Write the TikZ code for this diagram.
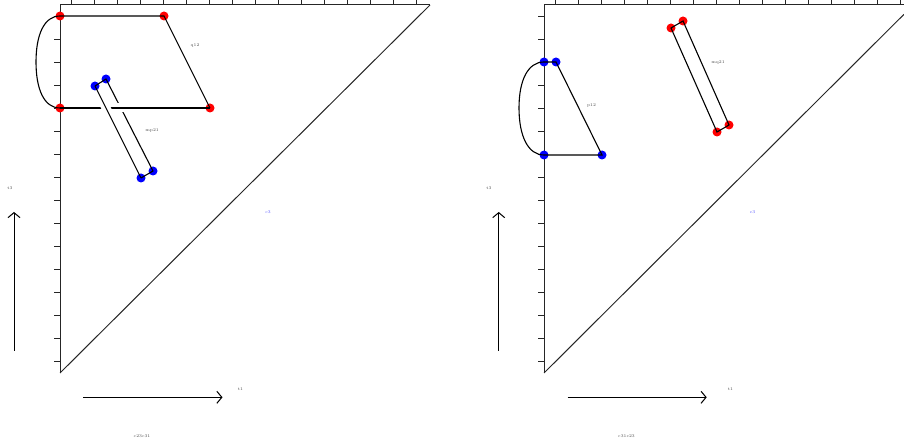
\documentclass[tikz,border=0pt]{standalone}
\usetikzlibrary{arrows.meta}
\begin{document}
\begin{tikzpicture}[x=1pt,y=-1pt,
  axisline/.style={draw=black!85,line width=1pt},
  tickline/.style={draw=black!85,line width=0.9pt},
  knot/.style={draw=black,line width=1.1pt},
  over/.style={preaction={draw,white,line width=9pt,shorten <=12pt,shorten >=12pt}},
  rdot/.style={circle,fill=red,inner sep=0pt,minimum size=9pt},
  bdot/.style={circle,fill=blue,inner sep=0pt,minimum size=9pt},
  lbl/.style={inner sep=0pt,text=black!70,font=\fontsize{4.2}{5}\selectfont},
  blbl/.style={inner sep=0pt,text=blue!70,font=\fontsize{4.2}{5}\selectfont},
  bigarrow/.style={draw=black,line width=1pt,-{Straight Barb[length=5pt,width=12pt]}}]
\useasboundingbox (0,0) rectangle (904,443);

% ---------- left panel ----------
\coordinate (LO) at (60,373);
\coordinate (LT) at (60,5);
\coordinate (LR) at (430,5);
\draw[axisline] (LO) -- (LT) -- (LR);
\draw[axisline] (LO) -- (LR);
\foreach \k in {0,...,15}{
  \draw[tickline] (71.7+23*\k,5) -- ++(0,-5);
  \draw[tickline] (60,16+23*\k) -- ++(-6,0);
}
\node[rdot] (a1) at (60,16) {};
\node[rdot] (a2) at (164,16) {};
\node[rdot] (a3) at (60,108) {};
\node[rdot] (a4) at (210,108) {};
\node[bdot] (b1) at (95,86) {};
\node[bdot] (b2) at (106,79) {};
\node[bdot] (b3) at (153,171) {};
\node[bdot] (b4) at (141,178) {};
\draw[knot] (a1.center) -- (a2.center) -- (a4.center);
\draw[knot] (a1.center) .. controls (44,16) and (36,35) .. (36,62)
  .. controls (36,89) and (44,108) .. (a3.center);
\draw[knot] (b1.center) -- (b2.center) -- (b3.center) -- (b4.center);
\draw[knot,over] (a4.center) -- (a3.center);
\draw[knot,over] (b4.center) -- (b1.center);
\node[lbl] (q12) at (195,45.5) {q12};
\node[lbl] (mp21) at (152,130.5) {mp21};
\node[lbl] (t3L) at (10,188) {t3};
\node[blbl] (c3L) at (268,212) {c3};
\node[lbl] (t1L) at (240.5,389) {t1};
\node[lbl] (cL) at (142,436) {c23c31};
\coordinate (vaL1) at (14,350.5);
\coordinate (vaL2) at (14,212);
\coordinate (haL1) at (83,397.3);
\coordinate (haL2) at (222.5,397.3);
\draw[bigarrow] (vaL1) -- (vaL2);
\draw[bigarrow] (haL1) -- (haL2);

% ---------- right panel ----------
\coordinate (RO) at (544,373);
\coordinate (RT) at (544,5);
\coordinate (RR) at (904,5);
\coordinate (RD) at (904,14.3);
\draw[axisline] (RO) -- (RT) -- (RR);
\draw[axisline] (RO) -- (RD);
\foreach \k in {0,...,15}{
  \draw[tickline] (555.7+23*\k,5) -- ++(0,-5);
  \draw[tickline] (544,16+23*\k) -- ++(-6,0);
}
\node[bdot] (c1) at (544,62) {};
\node[bdot] (c2) at (556,62) {};
\node[bdot] (c3) at (544,155) {};
\node[bdot] (c4) at (602,155) {};
\node[rdot] (d1) at (671,28) {};
\node[rdot] (d2) at (683,21) {};
\node[rdot] (d3) at (729,125) {};
\node[rdot] (d4) at (717,132) {};
\draw[knot] (c1.center) -- (c2.center) -- (c4.center) -- (c3.center);
\draw[knot] (c1.center) .. controls (528,62) and (519,80) .. (519,108)
  .. controls (519,136) and (528,155) .. (c3.center);
\draw[knot] (d1.center) -- (d2.center) -- (d3.center) -- (d4.center) -- cycle;
\node[lbl] (p12) at (591.5,105.7) {p12};
\node[lbl] (mq21) at (718,62.3) {mq21};
\node[lbl] (t3R) at (489,188) {t3};
\node[blbl] (c3R) at (752.5,212) {c3};
\node[lbl] (t1R) at (730.5,389) {t1};
\node[lbl] (cR) at (626.5,436) {c31c23};
\coordinate (vaR1) at (498.7,350.5);
\coordinate (vaR2) at (498.7,212);
\coordinate (haR1) at (567.5,397.3);
\coordinate (haR2) at (706.7,397.3);
\draw[bigarrow] (vaR1) -- (vaR2);
\draw[bigarrow] (haR1) -- (haR2);
\end{tikzpicture}
\end{document}
